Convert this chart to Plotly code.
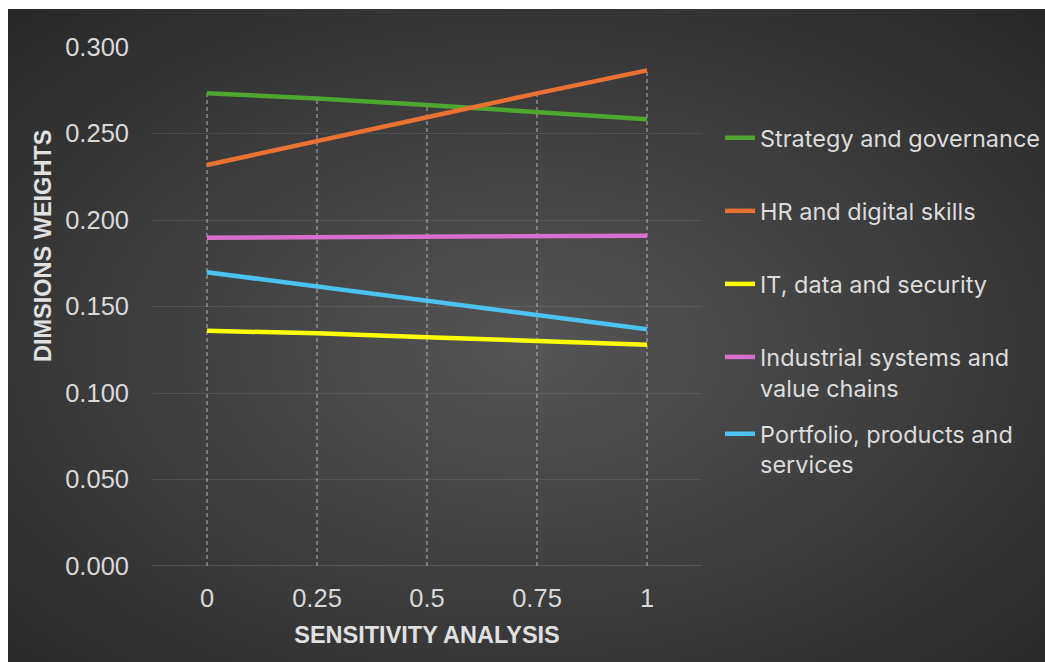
import base64
import plotly.graph_objects as go

categories = ["0", "0.25", "0.5", "0.75", "1"]
series_names = [
    "Strategy and governance",
    "HR and digital skills",
    "IT, data and security",
    "Industrial systems and<br>value chains",
    "Portfolio, products and<br>services",
]
strategy = [0.2733, 0.2703, 0.2665, 0.2625, 0.2583]
hr = [0.2318, 0.2453, 0.2594, 0.2732, 0.2865]
it_data = [0.1360, 0.1345, 0.1322, 0.1301, 0.1279]
industrial = [0.1898, 0.1900, 0.1903, 0.1906, 0.1909]
portfolio = [0.1698, 0.1614, 0.1533, 0.1449, 0.1368]
y_ticks = [0.0, 0.05, 0.10, 0.15, 0.20, 0.25, 0.30]

series = [strategy, hr, it_data, industrial, portfolio]
colors = ["#4ea72e", "#e97132", "#ffff00", "#d86ecc", "#4cc2ef"]

W, H = 1045, 662
L, R, T, B = 152, 343, 47, 96
pw, ph = W - L - R, H - T - B

fig = go.Figure()

# drop lines from max series value down to axis
dx, dy = [], []
for i, c in enumerate(categories):
    m = max(s[i] for s in series)
    dx += [c, c, None]
    dy += [0, m, None]
fig.add_trace(go.Scatter(x=dx, y=dy, mode="lines", showlegend=False, hoverinfo="skip",
                         line=dict(color="rgba(230,230,230,0.7)", width=1, dash="4px,3px")))

for k, (name, vals, col) in enumerate(zip(series_names, series, colors)):
    fig.add_trace(go.Scatter(
        x=categories, y=vals, mode="lines", name=name, legendgroup=f"g{k}",
        line=dict(color=col, width=4.5),
        legend="legend2" if k == 4 else "legend",
    ))

svg = (f'<svg xmlns="http://www.w3.org/2000/svg" width="{W-8}" height="{H-9}" '
       f'viewBox="0 0 {W-8} {H-9}" preserveAspectRatio="none"><defs>'
       '<radialGradient id="g" cx="0.5" cy="0.52" r="0.75">'
       '<stop offset="0" stop-color="#555555"/><stop offset="1" stop-color="#262626"/>'
       '</radialGradient></defs>'
       f'<rect width="{W-8}" height="{H-9}" fill="url(#g)"/></svg>')
src = "data:image/svg+xml;base64," + base64.b64encode(svg.encode()).decode()

tick_font = dict(family="Liberation Sans, Arial", size=25.5, color="#d9d9d9")
title_font = dict(family="Liberation Sans, Arial", size=23.5, color="#e0e0e0")
leg_font = dict(family="Inter, Roboto, sans-serif", size=23.5, color="#dcdcdc")

fig.update_layout(
    width=W, height=H,
    margin=dict(l=L, r=R, t=T, b=B, autoexpand=False),
    paper_bgcolor="white",
    plot_bgcolor="rgba(0,0,0,0)",
    images=[dict(source=src, xref="paper", yref="paper",
                 x=(8 - L) / pw, y=1 + (T - 9) / ph,
                 sizex=(W - 8) / pw, sizey=(H - 9) / ph,
                 sizing="stretch", xanchor="left", yanchor="top", layer="below")],
    xaxis=dict(type="category", range=[-0.5, 4.5], showgrid=False, zeroline=False,
               showline=False, ticks="", tickfont=tick_font, ticklabelstandoff=14,
               title=dict(text="<b>SENSITIVITY ANALYSIS</b>", font=title_font, standoff=16)),
    yaxis=dict(range=[0, 0.3], tickvals=y_ticks, tickformat=".3f", showgrid=True,
               gridcolor="rgba(255,255,255,0.09)", gridwidth=1, zeroline=False,
               showline=False, ticks="", tickfont=tick_font, ticklabelstandoff=22),
    shapes=[dict(type="line", xref="paper", yref="y", x0=0, x1=1, y0=0, y1=0,
                 line=dict(color="rgba(255,255,255,0.25)", width=1), layer="below")],
    annotations=[dict(text="<b>DIMSIONS WEIGHTS</b>", textangle=-90, xref="paper", yref="paper",
                      x=(43 - L) / pw, y=(H - B - 246) / ph, xanchor="center", yanchor="middle",
                      showarrow=False, font=title_font)],
    legend=dict(x=(720 - L) / pw, y=(H - B - 116) / ph, xanchor="left", yanchor="top",
                valign="top", tracegroupgap=39.5, font=leg_font, bgcolor="rgba(0,0,0,0)",
                itemwidth=30),
    legend2=dict(x=(720 - L) / pw, y=(H - B - 412) / ph, xanchor="left", yanchor="top",
                 valign="top", font=leg_font, bgcolor="rgba(0,0,0,0)", itemwidth=30),
)

fig.write_html("out.html")
